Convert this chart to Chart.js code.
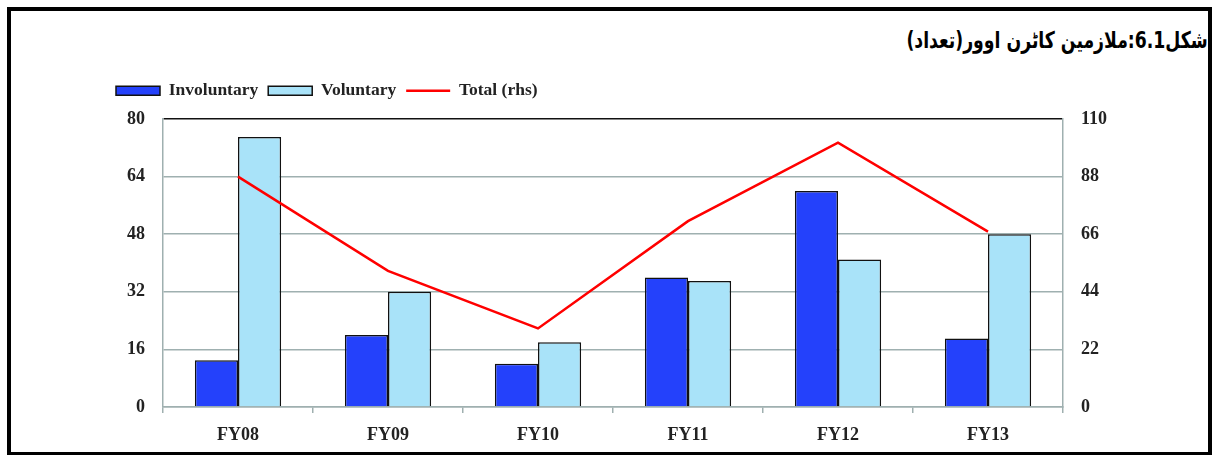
<!DOCTYPE html>
<html>
<head>
<meta charset="utf-8">
<script src="https://cdn.jsdelivr.net/npm/chart.js@4/dist/chart.umd.min.js"></script>
<style>
  html, body { margin: 0; padding: 0; background: #fff; }
  body { width: 1218px; height: 455px; position: relative; overflow: hidden; }
  #frame {
    position: absolute; left: 7px; top: 7px; width: 1205px; height: 448px;
    box-sizing: border-box; border: 4px solid #000; border-bottom-width: 3px;
  }
  #title {
    position: absolute; right: 10px; top: 27px;
    font-family: "DejaVu Sans", sans-serif; font-weight: bold; font-size: 23px;
    direction: rtl; color: #000; white-space: nowrap; letter-spacing: -0.5px;
    transform: scaleX(0.75); transform-origin: right center;
  }
  #myChart { position: absolute; left: 0; top: 0; }
</style>
</head>
<body>
<div id="frame"></div>
<div id="title">شکل6.1:ملازمین کاٹرن اوور(تعداد)</div>
<canvas id="myChart" width="1218" height="455"></canvas>
<script>
// values
const categories = ['FY08', 'FY09', 'FY10', 'FY11', 'FY12', 'FY13'];
const involuntary = [13, 20, 12, 36, 60, 19];
const voluntary = [75, 32, 18, 35, 41, 48];
const total = [88, 52, 30, 71, 101, 67];
const leftTicks = [0, 16, 32, 48, 64, 80];
const rightTicks = [0, 22, 44, 66, 88, 110];

const tickFont = { family: 'Liberation Serif', weight: 'bold', size: 18 };
const legendFont = { family: 'Liberation Serif', weight: 'bold', size: 17.5 };
const gridGray = '#9fb0b0';

// make the legend box taller so the plot starts lower
const legendHeight = {
  id: 'legendHeight',
  beforeInit(chart) {
    const fit = chart.legend.fit;
    chart.legend.fit = function () {
      fit.call(this);
      this.height = 47;
    };
  }
};

var ctx = document.getElementById('myChart').getContext('2d');
var myChart = new Chart(ctx, {
  type: 'bar',
  data: {
    labels: categories,
    datasets: [{
      label: 'Involuntary',
      data: involuntary,
      backgroundColor: '#2441fb',
      borderColor: '#111',
      borderWidth: 1.5,
      pointStyle: 'rect',
      yAxisID: 'y',
      order: 2
    }, {
      label: 'Voluntary',
      data: voluntary,
      backgroundColor: '#a9e3f9',
      borderColor: '#111',
      borderWidth: 1.5,
      pointStyle: 'rect',
      yAxisID: 'y',
      order: 2
    }, {
      type: 'line',
      label: 'Total (rhs)',
      data: total,
      borderColor: '#ff0000',
      backgroundColor: '#ff0000',
      borderWidth: 2.5,
      pointRadius: 0,
      pointStyle: 'line',
      tension: 0,
      fill: false,
      yAxisID: 'y1',
      order: 1
    }]
  },
  options: {
    responsive: false,
    animation: false,
    layout: { padding: { left: 106, right: 100, top: 72, bottom: 0 } },
    datasets: {
      bar: { barPercentage: 1, categoryPercentage: 0.575 }
    },
    plugins: {
      tooltip: { enabled: false },
      legend: {
        position: 'top',
        align: 'start',
        labels: {
          usePointStyle: true,
          pointStyleWidth: 44,
          boxWidth: 44,
          boxHeight: 9,
          padding: 10,
          color: '#222',
          font: legendFont,
          sort: (a, b) => a.datasetIndex - b.datasetIndex
        }
      }
    },
    scales: {
      x: {
        grid: { offset: true, drawOnChartArea: false, drawTicks: true, tickLength: 6, color: gridGray, lineWidth: 1.5 },
        border: { color: gridGray, width: 1.5 },
        ticks: { color: '#222', font: tickFont, padding: 12 },
        afterFit(scale) { scale.height = 48; }
      },
      y: {
        position: 'left',
        min: 0,
        max: 80,
        afterBuildTicks(scale) { scale.ticks = leftTicks.map(v => ({ value: v })); },
        grid: {
          drawTicks: false,
          color: c => (c.tick && c.tick.value === 80 ? '#111' : gridGray),
          lineWidth: 1.5
        },
        border: { color: gridGray, width: 1.5 },
        ticks: { color: '#222', font: tickFont, padding: 18 },
        afterFit(scale) { scale.width = 57; }
      },
      y1: {
        position: 'right',
        min: 0,
        max: 110,
        afterBuildTicks(scale) { scale.ticks = rightTicks.map(v => ({ value: v })); },
        grid: { drawOnChartArea: false, drawTicks: false },
        border: { color: gridGray, width: 1.5 },
        ticks: { color: '#222', font: tickFont, padding: 18 },
        afterFit(scale) { scale.width = 55; }
      }
    }
  },
  plugins: [legendHeight]
});
</script>
</body>
</html>
